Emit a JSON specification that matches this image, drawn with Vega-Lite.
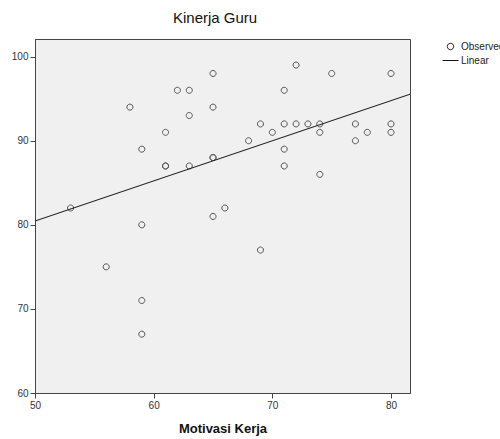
{
  "$schema": "https://vega.github.io/schema/vega-lite/v6.json",
  "width": 375,
  "height": 354,
  "autosize": "none",
  "padding": {"left": 35, "top": 39, "right": 90, "bottom": 46},
  "background": "white",
  "title": {"text": "Kinerja Guru", "font": "Liberation Sans", "fontSize": 15, "fontWeight": "normal", "color": "#111", "offset": 12, "anchor": "start", "frame": "group", "dx": 138},
  "config": {
    "view": {"fill": "#f0f0f0", "stroke": "#444", "strokeWidth": 1},
    "axis": {"labelFont": "Liberation Sans", "labelFontSize": 10, "labelColor": "#333", "domainColor": "#444", "tickColor": "#444", "tickSize": 5, "grid": false, "labelFlush": false, "titleFont": "Liberation Sans", "titleFontSize": 13, "titleFontWeight": "bold", "titleColor": "#111"}
  },
  "data": {"values": [
    {"x": 53, "y": 82}, {"x": 56, "y": 75}, {"x": 58, "y": 94}, {"x": 59, "y": 89},
    {"x": 59, "y": 80}, {"x": 59, "y": 71}, {"x": 59, "y": 67}, {"x": 61, "y": 91},
    {"x": 61, "y": 87}, {"x": 61, "y": 87}, {"x": 62, "y": 96}, {"x": 63, "y": 96},
    {"x": 63, "y": 93}, {"x": 63, "y": 87}, {"x": 65, "y": 98}, {"x": 65, "y": 94},
    {"x": 65, "y": 88}, {"x": 65, "y": 88}, {"x": 65, "y": 81}, {"x": 66, "y": 82},
    {"x": 68, "y": 90}, {"x": 69, "y": 92}, {"x": 69, "y": 77}, {"x": 70, "y": 91},
    {"x": 71, "y": 96}, {"x": 71, "y": 92}, {"x": 71, "y": 89}, {"x": 71, "y": 87},
    {"x": 72, "y": 99}, {"x": 72, "y": 92}, {"x": 73, "y": 92}, {"x": 74, "y": 92},
    {"x": 74, "y": 91}, {"x": 74, "y": 86}, {"x": 75, "y": 98}, {"x": 77, "y": 92},
    {"x": 77, "y": 90}, {"x": 78, "y": 91}, {"x": 80, "y": 98}, {"x": 80, "y": 92},
    {"x": 80, "y": 91}
  ]},
  "layer": [
    {
      "mark": {"type": "point", "filled": false, "stroke": "#555", "strokeWidth": 1, "size": 230, "opacity": 1},
      "encoding": {
        "x": {"field": "x", "type": "quantitative", "scale": {"domain": [50, 81.6], "nice": false, "zero": false}, "axis": {"values": [50, 60, 70, 80], "title": "Motivasi Kerja", "titlePadding": 12}},
        "y": {"field": "y", "type": "quantitative", "scale": {"domain": [60, 102.1], "nice": false, "zero": false}, "axis": {"values": [60, 70, 80, 90, 100], "title": null}},
        "shape": {"datum": "Observed", "type": "nominal", "scale": {"domain": ["Observed", "Linear"], "range": ["M-0.4,0A0.4,0.4,0,1,1,0.4,0A0.4,0.4,0,1,1,-0.4,0Z", "M-1,0H1"]},
          "legend": {"title": null, "orient": "none", "legendX": 407, "legendY": -1, "symbolSize": 256, "symbolStrokeColor": "#111", "symbolFillColor": "transparent", "symbolStrokeWidth": 1, "labelFont": "Liberation Sans", "labelFontSize": 10, "labelColor": "#222", "labelOffset": 2, "rowPadding": -1, "padding": 0}}
      }
    },
    {
      "transform": [{"regression": "y", "on": "x", "extent": [50, 81.6]}],
      "mark": {"type": "line", "color": "#222", "strokeWidth": 1.2, "clip": true},
      "encoding": {
        "x": {"field": "x", "type": "quantitative"},
        "y": {"field": "y", "type": "quantitative"}
      }
    }
  ]
}
